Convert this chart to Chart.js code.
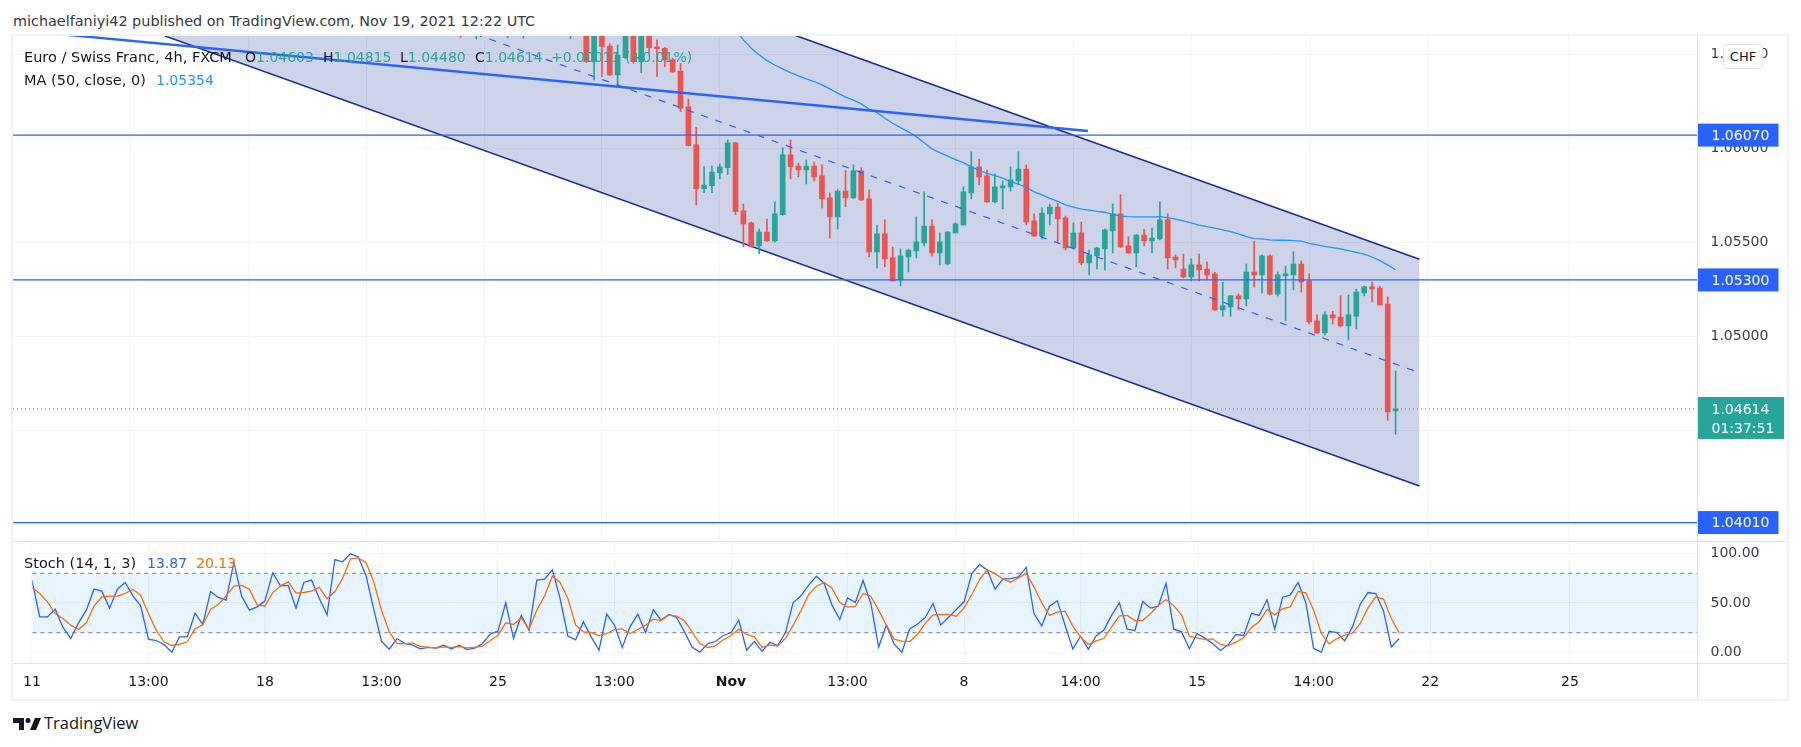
<!DOCTYPE html>
<html>
<head>
<meta charset="utf-8">
<title>EUR/CHF</title>
<script src="https://cdn.jsdelivr.net/npm/chart.js@4"></script>
<style>
  html, body { margin: 0; padding: 0; background: #fff; width: 1801px; height: 747px; overflow: hidden; }
  body { font-family: "DejaVu Sans", sans-serif; color: #131722; position: relative; }
  canvas { position: absolute; display: block; }
  .txt { position: absolute; white-space: pre; font-size: 14px; line-height: 20px; }
  .word { font-size: 14.5px; }
  .frame { position: absolute; left: 11px; top: 34px; width: 1778px; height: 667px; box-sizing: border-box; border: 2px solid #f0f3fa; }
  .sep { position: absolute; background: #e0e3eb; }
  #wrap { position: absolute; left: 13px; top: 36px; width: 1774px; height: 663px; overflow: hidden; }
  #chf { position: absolute; left: 1723px; top: 44px; width: 40px; height: 25px; box-sizing: border-box; background: #fff; border: 1px solid #e0e3eb; border-radius: 4px; text-align: center; font-size: 13px; line-height: 24px; }
  .v { color: #26a69a; }
</style>
</head>
<body>
<div class="txt" style="left:13px;top:11px;font-size:14.4px;color:#363a45">michaelfaniyi42 published on TradingView.com, Nov 19, 2021 12:22 UTC</div>
<div class="frame"></div>
<div id="wrap">
  <canvas id="priceChart" width="1774" height="505" style="left:0;top:0"></canvas>
  <canvas id="stochChart" width="1774" height="158" style="left:0;top:505px"></canvas>
</div>
<div class="sep" style="left:13px;top:541px;width:1774px;height:1px"></div>
<div class="sep" style="left:13px;top:663px;width:1774px;height:1px"></div>
<div class="sep" style="left:1697px;top:36px;width:1px;height:663px"></div>
<div id="chf">CHF</div>
<div class="txt word" style="left:24px;top:47px">Euro / Swiss Franc, 4h, FXCM</div>
<div class="txt" style="left:245px;top:47px">O<span class="v">1.04603</span></div>
<div class="txt" style="left:323px;top:47px">H<span class="v">1.04815</span></div>
<div class="txt" style="left:400px;top:47px">L<span class="v">1.04480</span></div>
<div class="txt" style="left:475px;top:47px">C<span class="v">1.04614</span></div>
<div class="txt v" style="left:551px;top:47px">+0.00011 (+0.01%)</div>
<div class="txt word" style="left:24px;top:70px">MA (50, close, 0)</div>
<div class="txt" style="left:156px;top:70px;color:#2196f3">1.05354</div>
<div class="txt word" style="left:24px;top:553px">Stoch (14, 1, 3)</div>
<div class="txt" style="left:147px;top:553px;color:#2962ff">13.87</div>
<div class="txt" style="left:196px;top:553px;color:#ff6d00">20.13</div>
<svg style="position:absolute;left:13px;top:717px" width="28" height="14" viewBox="0 0 28 14">
  <path d="M0 1h11v12H6V6H0z" fill="#131722"/>
  <circle cx="15" cy="3.5" r="2.5" fill="#131722"/>
  <path d="M22 1h6l-5 12h-6z" fill="#131722"/>
</svg>
<div class="txt" style="left:44px;top:713px;font-family:'Open Sans',sans-serif;font-size:16.5px;color:#131722">TradingView</div>

<script>
// candles that reach into the pane, the older ones only show a wick tip
var barIndex = [57,59,63,65,71,73,74,75,76,77,78,79,80,81,82,83,84,85,86,87,88,89,90,91,92,93,94,95,96,97,98,99,
  100,101,102,103,104,105,106,107,108,109,110,111,112,113,114,115,116,117,118,119,120,121,122,123,124,125,126,127,128,129,
  130,131,132,133,134,135,136,137,138,139,140,141,142,143,144,145,146,147,148,149,150,151,152,153,154,155,156,157,158,159,
  160,161,162,163,164,165,166,167,168,169,170,171,172,173,174,175,176];
var openPrices = [1.0668,1.0664,1.0664,1.0664,1.0664,1.0665,1.06461,1.0668,1.06544,1.0639,1.06482,1.0666,1.06461,1.0662,1.06539,1.06532,1.0647,1.06411,1.0622,1.06018,1.05785,1.05801,1.05869,1.05897,1.06029,1.05667,1.05603,1.05481,1.05555,1.05507,1.05647,1.05965,
  1.05906,1.05885,1.05906,1.05853,1.05736,1.05635,1.05773,1.05736,1.0588,1.05731,1.05449,1.05545,1.05417,1.053,1.05422,1.05454,1.05497,1.05587,1.05444,1.05385,1.0555,1.05592,1.05763,1.05901,1.05853,1.05715,1.05789,1.05795,1.05826,1.0589,
  1.05614,1.05534,1.05651,1.05688,1.0563,1.0547,1.0555,1.0539,1.05428,1.05465,1.0556,1.05651,1.05481,1.05444,1.05539,1.05507,1.05518,1.05619,1.05422,1.05358,1.05316,1.0538,1.05358,1.05332,1.0514,1.05156,1.05215,1.05199,1.05342,1.05327,
  1.05428,1.05225,1.05321,1.05327,1.05385,1.05295,1.05082,1.05018,1.05114,1.05103,1.05055,1.05108,1.05231,1.05263,1.05257,1.05172,1.04603];
var highPrices = [1.0672,1.0672,1.067,1.067,1.067,1.067,1.0672,1.067,1.06555,1.0655,1.0668,1.0669,1.0667,1.0665,1.06576,1.06536,1.06479,1.06452,1.06262,1.06112,1.05903,1.05906,1.05917,1.06044,1.06031,1.05704,1.05608,1.05571,1.05624,1.05715,1.06002,1.06044,
  1.05922,1.05938,1.05927,1.05912,1.05763,1.05779,1.05881,1.05912,1.05896,1.05779,1.05592,1.05619,1.05475,1.05465,1.05462,1.05635,1.05768,1.05619,1.0555,1.05557,1.05603,1.05795,1.05981,1.05943,1.05885,1.05864,1.05826,1.05901,1.05981,1.05912,
  1.05651,1.05683,1.05704,1.05709,1.0564,1.05603,1.05608,1.05459,1.05475,1.05571,1.05704,1.05752,1.05529,1.05541,1.05571,1.05576,1.05715,1.05651,1.05433,1.05438,1.05412,1.05438,1.05396,1.05342,1.05289,1.05218,1.05225,1.05385,1.05507,1.05433,
  1.05433,1.05342,1.05374,1.05449,1.05401,1.05332,1.05114,1.0513,1.05133,1.05215,1.0522,1.05252,1.05268,1.05289,1.05268,1.0521,1.04815];
var lowPrices = [1.0659,1.06582,1.06587,1.06585,1.06583,1.06456,1.06364,1.06381,1.06388,1.06328,1.06478,1.06452,1.06402,1.06509,1.06381,1.06434,1.06404,1.06195,1.06012,1.05699,1.05764,1.05764,1.05837,1.0586,1.05647,1.05477,1.05474,1.05438,1.05505,1.05502,1.05645,1.05837,
  1.05848,1.0581,1.05826,1.05683,1.05523,1.05571,1.05688,1.05734,1.05723,1.05422,1.05364,1.05369,1.05293,1.05268,1.05342,1.05417,1.05481,1.05428,1.0538,1.0538,1.05549,1.0559,1.05731,1.05805,1.05712,1.05709,1.05678,1.05773,1.05805,1.05592,
  1.05532,1.05518,1.05592,1.05497,1.05459,1.05465,1.0538,1.05327,1.05358,1.05353,1.05444,1.05473,1.05442,1.05369,1.05481,1.05444,1.05513,1.05358,1.05364,1.05311,1.05295,1.05295,1.053,1.05138,1.05108,1.05108,1.0514,1.05162,1.05263,1.05231,
  1.0522,1.05215,1.05082,1.05247,1.05236,1.05066,1.05016,1.05007,1.05066,1.0505,1.04981,1.05039,1.05215,1.05183,1.05165,1.04555,1.0448];
var closePrices = [1.0665,1.0668,1.0669,1.0669,1.0669,1.06461,1.0668,1.06541,1.0639,1.06496,1.0665,1.06461,1.0664,1.06535,1.0653,1.0647,1.06406,1.06213,1.06014,1.05785,1.05805,1.05874,1.05901,1.06029,1.05663,1.05598,1.05477,1.05555,1.05507,1.05651,1.05965,1.05902,
  1.05885,1.05906,1.05848,1.05731,1.05635,1.05773,1.05736,1.0588,1.05725,1.05449,1.05545,1.05412,1.05295,1.05428,1.05459,1.05502,1.05587,1.05444,1.05502,1.05555,1.05598,1.05768,1.05901,1.05848,1.05715,1.05795,1.058,1.05832,1.0589,1.05608,
  1.05534,1.05656,1.05688,1.05624,1.0547,1.0555,1.0539,1.05433,1.0547,1.05566,1.05651,1.05475,1.05444,1.05539,1.05507,1.05523,1.05619,1.05417,1.05406,1.05316,1.0538,1.05353,1.05327,1.0514,1.05162,1.05215,1.05199,1.05342,1.05327,1.05428,
  1.05225,1.05327,1.05332,1.05385,1.05289,1.05077,1.05018,1.05114,1.05098,1.05055,1.05114,1.05236,1.05263,1.05252,1.05167,1.04598,1.04614];

// moving average, bars 92 to 176
var maStart = 92;
var maValues = [1.0663,1.06576,1.06532,1.06497,1.06466,1.06443,1.06422,1.06402,1.06385,1.06369,1.06355,1.06337,1.06316,1.06293,1.06272,1.06256,1.06236,1.06209,1.0619,1.0616,1.06133,1.0611,1.06087,1.06062,1.0603,1.05997,1.05977,1.05958,1.0594,1.05924,1.05901,1.05883,1.05867,1.05855,
  1.05841,1.05823,1.0581,1.05793,1.05768,1.05752,1.05734,1.05718,1.05699,1.05687,1.05676,1.05671,1.05665,1.0566,1.05649,1.0564,1.05637,1.05635,1.05635,1.05635,1.05637,1.05631,1.05623,1.05614,1.05603,1.05592,1.05583,1.05575,1.05566,1.05557,1.05545,1.0553,1.0552,1.05518,1.05513,1.05511,1.05511,1.05509,1.05506,1.05495,1.05486,1.05479,1.05472,1.05465,1.05456,1.05447,1.05437,1.05422,1.05403,1.0538,1.05354];

// stochastic, one value per bar from 0
var stochK = [73.1,36,36,43.8,25.3,14.1,30,42.8,64,62,44.8,64,70.7,57.2,47.1,13.5,12.1,8.1,0.3,15.8,15.8,39.7,28.3,61.6,55.6,52.9,91.2,56.9,42.8,46.1,52.2,80.5,67.3,67.7,44.8,70.7,73.1,54.5,38,93.9,
  91.6,99.7,96.6,78.1,43.8,11.4,3.4,14.1,9.1,7.4,3.7,5.1,4.4,7.4,3.4,7.4,3,4.4,9.1,18.5,21.5,50.2,14.1,37.4,22.6,73.1,74.1,83.5,54.5,16.5,12.8,31,15.8,2.4,38.7,27.6,5.1,25.9,
  38.7,20.2,43.1,32.7,38.4,35.4,20.9,5.4,0.3,9.1,11.1,17.2,19.9,32.7,2.4,11.1,1.3,10.4,7.1,19.9,50.5,57.2,68,77.1,69.7,47.8,33.3,55.2,50.5,72.7,49.5,5.7,27.6,8.4,0.3,23.9,28.6,35.4,49.5,27.9,35.4,43.4,
  51.2,79.8,88.9,83.2,64,74.4,74.7,76.4,85.9,39.4,26.9,46.8,52.2,27.6,3.7,16.5,3.4,16.8,22.6,37.7,50.2,23.6,22.2,51.5,44.8,46.8,69.7,23.6,20.9,3.7,19.2,14.5,9.1,2,7.7,18.2,17.2,
  39.4,37.4,53.2,23.6,55.6,58.2,70.7,50.2,4,0.3,21.5,20.2,11.8,25.9,48.8,60.6,59.6,41.8,5.7,13.87];
var stochD = [65.7,59.6,51.2,39.4,34.3,27.6,23.2,30,46.8,56.2,56.9,56.9,59.6,63.6,57.9,39.4,22.6,10.8,7.1,8.1,10.8,23.9,27.9,43.4,48.8,56.9,67,67.7,64,48.1,46.8,60.3,67.3,71.4,59.9,60.6,62,65.7,54.2,61.6,
  74.7,94.6,95.6,90.9,71.4,42.8,20.9,9.1,8.8,9.8,6.1,5.4,4.4,5.7,5.1,6.1,4.7,5.4,6.4,12.1,17.5,30,28.3,35,23.6,42.8,57.2,77.1,70.7,54.5,27.6,20.9,20.2,16.8,19.2,23.2,23.9,19.2,
  23.2,27.6,33.7,32.3,38,36.7,32,20.9,8.8,5.1,6.7,12.8,17.2,23.6,18.2,15.8,5.1,7.7,6.4,14.1,27.6,42.1,58.6,67,70.7,65,50.5,45.8,46.5,59.6,56.9,42.8,27.6,13.5,11.4,11.1,18.2,29.3,38,38.4,38.4,36.7,
  44.8,58.6,73.7,83.5,79.5,74.4,71,75.4,79.8,66.3,50.2,37.4,40.7,41.8,26.6,15.8,8.1,11.8,14.1,25.9,37,37.4,32.3,32.3,39.1,47.5,53.5,47.1,38,16.5,14.8,13.1,13.8,8.1,6.7,10.4,15.2,
  25.3,31.3,43.4,38,44.1,46.1,61.6,60.3,42.8,19.2,8.8,14.1,17.5,19.5,29.3,45.1,56.2,53.9,34.3,20.13];

// channel drawing and trend line, anchors in bar index and price
var channelX = [19.34, 179.04];
var channelUpper = [1.07803, 1.0541];
var channelMiddle = [1.072, 1.04807];
var channelLower = [1.06598, 1.04204];
var trendX = [5, 136.85];
var trendY = [1.06611, 1.06092];

var levelValues = [1.0607, 1.053, 1.0401];
var lastPrice = 1.04614;
var countdown = "01:37:51";

var priceTicks = [1.065, 1.06, 1.055, 1.05, 1.045, 1.04];
var stochTicks = [100, 50, 0];
var stochBand = [80, 20];
var timeTickIndex = [0,15,30,45,60,75,90,105,120,135,150,165,180,198];
var timeTickLabels = ["11","13:00","18","13:00","25","13:00","Nov","13:00","8","14:00","15","14:00","22","25"];

var upColor = "#26a69a";
var downColor = "#ef5350";
var lineBlue = "#2962ff";
var gridColor = "#f2f4f9";
var tickColor = "#3c404b";
var fontName = "'DejaVu Sans', sans-serif";
var xMin = 0.05, xMax = 214.42;

function pairs(xs, ys) {
  return xs.map(function(x, i) { return { x: x, y: ys[i] }; });
}
function flat(value) {
  return [{ x: xMin, y: value }, { x: xMax, y: value }];
}

var barColors = barIndex.map(function(b, i) {
  return closePrices[i] >= openPrices[i] ? upColor : downColor;
});

function verticalGrid() {
  return {
    type: "linear", min: xMin, max: xMax, offset: false,
    border: { display: false },
    grid: { color: gridColor, drawTicks: false, offset: false },
    afterBuildTicks: function(scale) {
      scale.ticks = timeTickIndex.map(function(v) { return { value: v }; });
    }
  };
}

// the tick padding would otherwise be added above and below the pane too
function fixAxisWidth(scale) {
  scale.width = 89.5;
  scale.paddingTop = 0;
  scale.paddingBottom = 0;
}

// price labels sitting on the right axis
var axisLabels = {
  id: "axisLabels",
  afterDraw: function(chart) {
    var c = chart.ctx, y = chart.scales.y, left = chart.chartArea.right;
    c.save();
    c.font = "14px " + fontName;
    c.textBaseline = "middle";
    levelValues.forEach(function(v) {
      var py = y.getPixelForValue(v);
      c.fillStyle = lineBlue;
      c.fillRect(left, py - 11.5, 81, 23);
      c.fillStyle = "#fff";
      c.fillText(v.toFixed(5), left + 14, py + 1);
    });
    var py = y.getPixelForValue(lastPrice);
    c.fillStyle = upColor;
    c.fillRect(left, py - 12, 86.5, 42);
    c.fillStyle = "#fff";
    c.fillText(lastPrice.toFixed(5), left + 14, py + 1.5);
    c.fillText(countdown, left + 14, py + 20.5);
    c.restore();
  }
};

new Chart(document.getElementById("priceChart"), {
  data: {
    datasets: [
      { type: "line", data: pairs(channelX, channelUpper), borderColor: "#1a2f8c", borderWidth: 1.6, pointRadius: 0, fill: "+1", backgroundColor: "rgba(41,66,158,0.23)", order: 9 },
      { type: "line", data: pairs(channelX, channelLower), borderColor: "#1a2f8c", borderWidth: 1.6, pointRadius: 0, order: 9 },
      { type: "bar", data: barIndex.map(function(b, i) { return { x: b, y: [lowPrices[i], highPrices[i]] }; }), backgroundColor: barColors, barThickness: 1, grouped: false, order: 6 },
      { type: "bar", data: barIndex.map(function(b, i) { return { x: b, y: [openPrices[i], closePrices[i]] }; }), backgroundColor: barColors, barThickness: 5, minBarLength: 1, grouped: false, order: 5 },
      { type: "line", data: pairs(channelX, channelMiddle), borderColor: lineBlue, borderWidth: 1.2, borderDash: [7, 8], pointRadius: 0, order: 4 },
      { type: "line", data: pairs(maValues.map(function(v, i) { return maStart + i; }), maValues), borderColor: "#2196f3", borderWidth: 1.3, pointRadius: 0, order: 3 },
      { type: "line", data: pairs(trendX, trendY), borderColor: lineBlue, borderWidth: 2.4, pointRadius: 0, order: 2 },
      { type: "line", data: flat(levelValues[0]), borderColor: lineBlue, borderWidth: 1.2, pointRadius: 0, order: 1 },
      { type: "line", data: flat(levelValues[1]), borderColor: lineBlue, borderWidth: 1.2, pointRadius: 0, order: 1 },
      { type: "line", data: flat(levelValues[2]), borderColor: lineBlue, borderWidth: 1.2, pointRadius: 0, order: 1 },
      { type: "line", data: flat(lastPrice), borderColor: upColor, borderWidth: 1, borderDash: [1, 3], pointRadius: 0, order: 1 }
    ]
  },
  options: {
    responsive: false,
    animation: false,
    events: [],
    layout: { autoPadding: false, padding: 0 },
    plugins: { legend: { display: false }, tooltip: { enabled: false } },
    scales: {
      x: Object.assign(verticalGrid(), {
        ticks: { display: false },
        afterFit: function(scale) { scale.height = 0; }
      }),
      y: {
        position: "right", min: 1.03912, max: 1.06597, offset: false,
        border: { display: false },
        grid: { color: gridColor, drawTicks: false, offset: false },
        afterBuildTicks: function(scale) {
          scale.ticks = priceTicks.map(function(v) { return { value: v }; });
        },
        ticks: {
          padding: 13, color: tickColor, font: { family: fontName, size: 14 },
          callback: function(v) { return v.toFixed(5); }
        },
        afterFit: fixAxisWidth
      }
    }
  },
  plugins: [axisLabels]
});

new Chart(document.getElementById("stochChart"), {
  data: {
    datasets: [
      { type: "line", data: flat(stochBand[0]), borderColor: "#787b86", borderWidth: 1, borderDash: [4, 4], pointRadius: 0, fill: "+1", backgroundColor: "rgba(33,150,243,0.1)", order: 5 },
      { type: "line", data: flat(stochBand[1]), borderColor: "#787b86", borderWidth: 1, borderDash: [4, 4], pointRadius: 0, order: 5 },
      { type: "line", data: stochK.map(function(v, i) { return { x: i, y: v }; }), borderColor: lineBlue, borderWidth: 1.3, pointRadius: 0, order: 2 },
      { type: "line", data: stochD.map(function(v, i) { return { x: i, y: v }; }), borderColor: "#ff6d00", borderWidth: 1.3, pointRadius: 0, order: 1 }
    ]
  },
  options: {
    responsive: false,
    animation: false,
    events: [],
    layout: { autoPadding: false, padding: { top: 0.5 } },
    plugins: { legend: { display: false }, tooltip: { enabled: false } },
    scales: {
      x: Object.assign(verticalGrid(), {
        ticks: {
          autoSkip: false, maxRotation: 0, padding: 10, color: "#131722",
          font: function(ctx) {
            var label = timeTickLabels[ctx.index];
            return { family: fontName, size: 14, weight: label === "Nov" ? "bold" : "normal" };
          },
          callback: function(v, i) { return timeTickLabels[i]; }
        },
        afterFit: function(scale) { scale.height = 35.5; }
      }),
      y: {
        position: "right", min: -11.1, max: 112.1, offset: false,
        border: { display: false },
        grid: { color: gridColor, drawTicks: false, offset: false },
        afterBuildTicks: function(scale) {
          scale.ticks = stochTicks.map(function(v) { return { value: v }; });
        },
        ticks: {
          padding: 13, color: tickColor, font: { family: fontName, size: 14 },
          callback: function(v) { return v.toFixed(2); }
        },
        afterFit: fixAxisWidth
      }
    }
  }
});
</script>
</body>
</html>
